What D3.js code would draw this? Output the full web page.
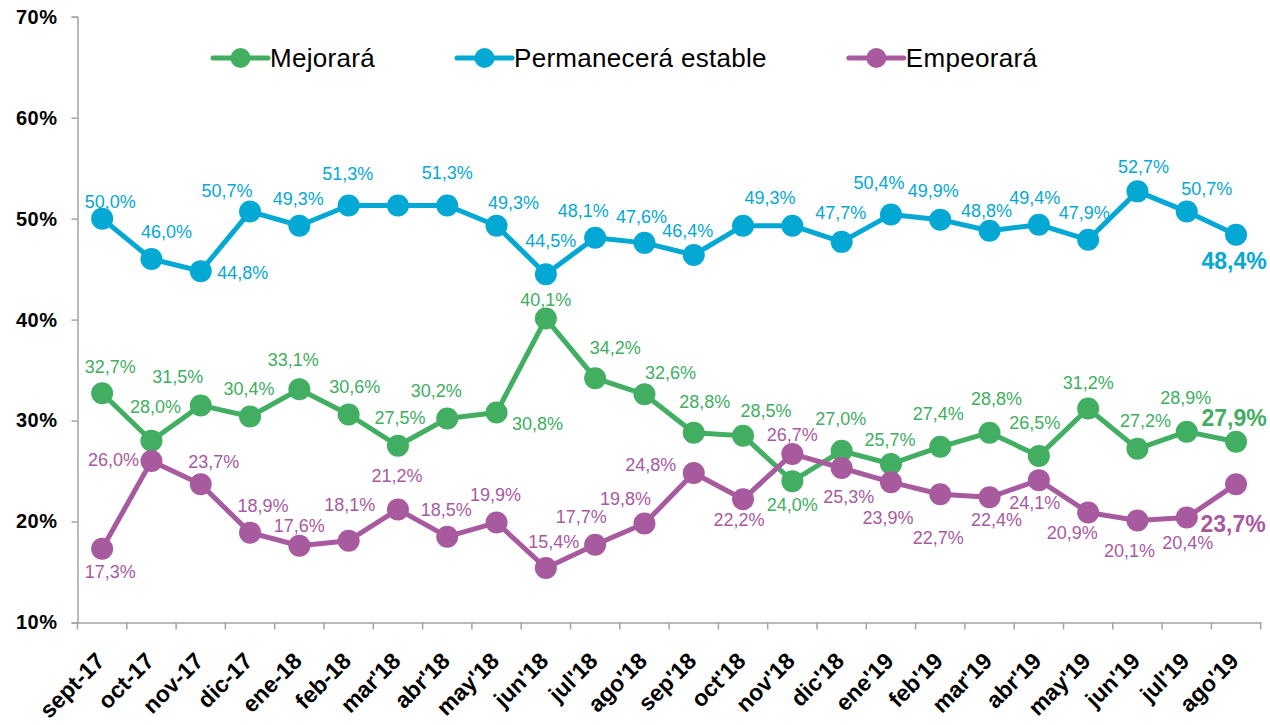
<!DOCTYPE html>
<html><head><meta charset="utf-8">
<script src="https://cdn.jsdelivr.net/npm/d3@7"></script>
<style>
body{margin:0;background:#fff}
text{font-family:"Liberation Sans",Arial,Helvetica,sans-serif}
</style>
</head><body>
<svg id="chart" width="1270" height="725"></svg>
<script>
const months = ["sept-17","oct-17","nov-17","dic-17","ene-18","feb-18","mar'18","abr'18","may'18","jun'18","jul'18","ago'18","sep'18","oct'18","nov'18","dic'18","ene'19","feb'19","mar'19","abr'19","may'19","jun'19","jul'19","ago'19"];
const mejorara    = [32.7,28.0,31.5,30.4,33.1,30.6,27.5,30.2,30.8,40.1,34.2,32.6,28.8,28.5,24.0,27.0,25.7,27.4,28.8,26.5,31.2,27.2,28.9,27.9];
const permanecera = [50.0,46.0,44.8,50.7,49.3,51.3,51.3,51.3,49.3,44.5,48.1,47.6,46.4,49.3,49.3,47.7,50.4,49.9,48.8,49.4,47.9,52.7,50.7,48.4];
const empeorara   = [17.3,26.0,23.7,18.9,17.6,18.1,21.2,18.5,19.9,15.4,17.7,19.8,24.8,22.2,26.7,25.3,23.9,22.7,22.4,24.1,20.9,20.1,20.4,23.7];
const yTicks = [10,20,30,40,50,60,70];
const seriesNames = ["Mejorará","Permanecerá estable","Empeorará"];
const seriesColors = ["#41AE61","#04A8D4","#A85A9F"];

// label placement offsets (text centre relative to the point), null = no label
const offMejorara = [[8,-27],[4,-34],[-23,-29],[-1,-28],[-6,-30],[6,-28],[2,-28],[-11,-28],[41,11],[0,-19],[20,-31],[26,-22],[11,-31],[23,-25],[0,23],[-1,-32],[-1,-24],[-2,-33],[7,-34],[-4,-33],[0,-26],[8,-28],[-1,-34],[-2,-24]];
const offPermanecera = [[8,-17],[15,-28],[42,1],[-23,-21],[-1,-27],[-1,-32],null,[0,-33],[17,-23],[5,-34],[-12,-27],[-3,-26],[-6,-24],[27,-28],null,[-1,-29],[-12,-32],[-7,-29],[-3,-20],[-4,-27],[-4,-27],[6,-25],[20,-23],[-2,26]];
const offEmpeorara = [[8,23],[-38,-1],[13,-23],[13,-27],[0,-20],[1,-36],[-1,-34],[-1,-27],[-1,-28],[8,-26],[-14,-28],[-19,-25],[-43,-9],[-4,20],[0,-19],[7,28],[-3,35],[-2,43],[7,22],[-4,22],[-16,20],[-8,30],[1,25],[-3,40]];

const series = [
  {name: seriesNames[0], values: mejorara, color: seriesColors[0], off: offMejorara},
  {name: seriesNames[1], values: permanecera, color: seriesColors[1], off: offPermanecera},
  {name: seriesNames[2], values: empeorara, color: seriesColors[2], off: offEmpeorara}
];

const svg = d3.select("#chart");
const x = d3.scaleBand().domain(months).range([77.5, 1260.7]);
const y = d3.scaleLinear().domain([10, 70]).range([622.5, 16.7]);
const cx = d => x(d) + x.bandwidth() / 2;
const fmt = v => v.toFixed(1).replace(".", ",") + "%";
const axisColor = "#A3A3A3";
const baseY = y(10);

// Y axis
const yAxis = svg.append("g").attr("transform", "translate(77.5,0)")
  .call(d3.axisLeft(y).tickValues(yTicks).tickSize(6).tickPadding(14).tickFormat(d => d + "%"));
yAxis.select(".domain").attr("stroke", axisColor).attr("stroke-width", 1.5);
yAxis.selectAll(".tick line").attr("stroke", axisColor).attr("stroke-width", 1.5);
yAxis.selectAll(".tick text").attr("fill", "#000").attr("font-size", 20).attr("font-weight", "bold")
  .style("font-family", '"Liberation Sans",Arial,sans-serif').attr("letter-spacing", "0.5px");

// X axis
const xAxis = svg.append("g").attr("transform", `translate(0,${baseY})`)
  .call(d3.axisBottom(x).tickSize(0).tickFormat(""));
xAxis.select(".domain").attr("stroke", axisColor).attr("stroke-width", 1.5);
xAxis.selectAll(".tick").remove();
const bounds = months.map(m => x(m)).concat([x.range()[1]]);
xAxis.selectAll("line.bt").data(bounds).join("line").attr("class", "bt")
  .attr("x1", d => d).attr("x2", d => d).attr("y1", 0).attr("y2", 7)
  .attr("stroke", axisColor).attr("stroke-width", 1.5);
svg.append("g").selectAll("text").data(months).join("text")
  .attr("transform", d => `translate(${cx(d) + 4},${baseY + 40}) rotate(-45)`)
  .attr("text-anchor", "end")
  .attr("font-size", 23).attr("font-weight", "bold").attr("fill", "#000")
  .text(d => d);

// Lines and points
const line = d3.line().x((v, i) => cx(months[i])).y(v => y(v));
series.forEach(s => {
  const g = svg.append("g");
  g.append("path").datum(s.values).attr("d", line)
    .attr("fill", "none").attr("stroke", s.color).attr("stroke-width", 5).attr("stroke-linejoin", "round");
  g.selectAll("circle").data(s.values).join("circle")
    .attr("cx", (v, i) => cx(months[i])).attr("cy", v => y(v)).attr("r", 11).attr("fill", s.color);
});
// Labels
series.forEach(s => {
  const n = s.values.length;
  svg.append("g").selectAll("text").data(s.values.map((v, i) => ({v, i, o: s.off[i]})).filter(d => d.o))
    .join("text")
    .attr("x", d => cx(months[d.i]) + d.o[0])
    .attr("y", d => y(d.v) + d.o[1])
    .attr("dy", "0.36em")
    .attr("text-anchor", "middle")
    .attr("fill", s.color)
    .attr("font-size", d => d.i === n - 1 ? 23 : 18)
    .attr("font-weight", d => d.i === n - 1 ? "bold" : "normal")
    .text(d => fmt(d.v));
});

// Legend
const leg = svg.append("g");
let lx = 213;
series.forEach(s => {
  const g = leg.append("g").attr("transform", `translate(${lx},58)`);
  g.append("line").attr("x1", 0).attr("x2", 55).attr("y1", 0).attr("y2", 0)
    .attr("stroke", s.color).attr("stroke-width", 5).attr("stroke-linecap", "round");
  g.append("circle").attr("cx", 27.5).attr("cy", 0).attr("r", 10).attr("fill", s.color);
  const t = g.append("text").attr("x", 57).attr("y", 0).attr("dy", "0.36em")
    .attr("font-size", 26).attr("letter-spacing", "0.3px").attr("fill", "#000").text(s.name);
  lx += 57 + t.node().getComputedTextLength() + 82;
});
</script>
</body></html>
